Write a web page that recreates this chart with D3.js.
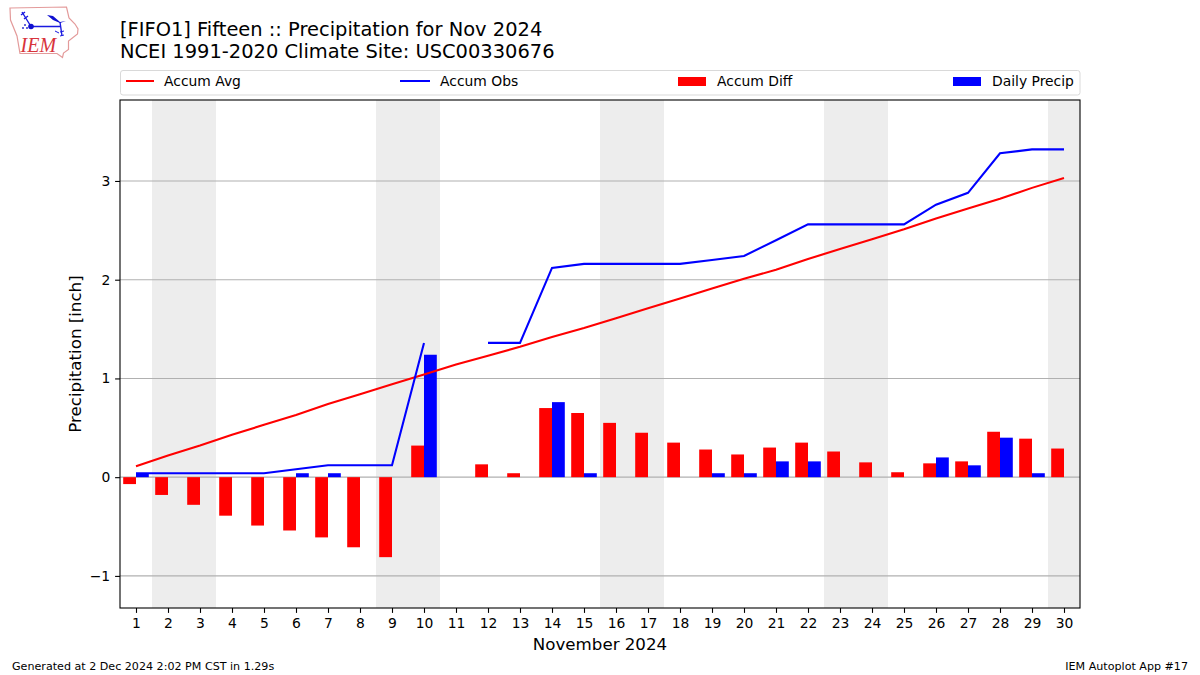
<!DOCTYPE html>
<html>
<head>
<meta charset="utf-8">
<script src="https://cdn.jsdelivr.net/npm/d3@7/dist/d3.min.js"></script>
<style>
html,body{margin:0;padding:0;background:#fff;}
svg{display:block;}
text{font-family:"DejaVu Sans",sans-serif;fill:#000;}
</style>
</head>
<body>
<div id="chart"></div>
<script>
const days = d3.range(1, 31);
const accumAvg = [0.11,0.22,0.32,0.43,0.53,0.63,0.74,0.84,0.94,1.04,1.14,1.23,1.32,1.42,1.51,1.61,1.71,1.81,1.91,2.01,2.10,2.21,2.31,2.41,2.51,2.62,2.72,2.82,2.93,3.03];
const accumObs = [0.04,0.04,0.04,0.04,0.04,0.08,0.12,0.12,0.12,1.36,null,1.36,1.36,2.12,2.16,2.16,2.16,2.16,2.20,2.24,2.40,2.56,2.56,2.56,2.56,2.76,2.88,3.28,3.32,3.32];
const accumDiff = [-0.07,-0.18,-0.28,-0.39,-0.49,-0.54,-0.61,-0.71,-0.81,0.32,null,0.13,0.04,0.70,0.65,0.55,0.45,0.35,0.28,0.23,0.30,0.35,0.26,0.15,0.05,0.14,0.16,0.46,0.39,0.29];
const dailyPrecip = [0.04,0,0,0,0,0.04,0.04,0,0,1.24,0,0,0,0.76,0.04,0,0,0,0.04,0.04,0.16,0.16,0,0,0,0.20,0.12,0.40,0.04,0];
const weekends = [[1.5,3.5],[8.5,10.5],[15.5,17.5],[22.5,24.5],[29.5,30.5]];
const yTicks = [-1,0,1,2,3];
const titleLines = ["[FIFO1] Fifteen :: Precipitation for Nov 2024","NCEI 1991-2020 Climate Site: USC00330676"];
const legendLabels = ["Accum Avg","Accum Obs","Accum Diff","Daily Precip"];
const xTitle = "November 2024";
const yTitle = "Precipitation [inch]";
const footLeft = "Generated at 2 Dec 2024 2:02 PM CST in 1.29s";
const footRight = "IEM Autoplot App #17";

const W = 1200, H = 675;
const plot = {l:120, r:1080, t:100, b:608};
const RED = "#ff0000", BLUE = "#0000ff";
const svg = d3.select("#chart").append("svg").attr("width",W).attr("height",H);

const x = d3.scaleLinear().domain([0.5,30.5]).range([plot.l,plot.r]);
const y = d3.scaleLinear().domain([-1.325,3.82]).range([plot.b,plot.t]);
const barW = 0.4;

// logo
const logo = svg.append("g");
logo.append("path").attr("d","M10 8 L66.5 7 L69 18 L75 24 L78 29 L77.5 34 L68.5 41 L68.5 49.5 L63.5 53 L62.5 57.5 L57 53.5 L20 53.5 L17 36 L10.5 20 Z")
  .attr("fill","none").attr("stroke","#e39a9a").attr("stroke-width",1.2);
logo.append("path").attr("d","M31 26.5 L61 26.5 M60 22 L62 36 M22 12 L31 26.5 M21 15 L25 12 M24 19 L28 16")
  .attr("fill","none").attr("stroke","#1a1ae0").attr("stroke-width",1.4);
logo.append("circle").attr("cx",31).attr("cy",26.5).attr("r",2.8).attr("fill","#1010d0");
logo.append("path").attr("d","M47 15 L53 16 L60 22 L66 21 L60 23 L53 20 Z").attr("fill","#1010d0");
logo.append("path").attr("d","M55 31 L59 33 M60 32 L64 31 M60 36 L64 35").attr("stroke","#1a1ae0").attr("stroke-width",1).attr("fill","none");
logo.append("circle").attr("cx",25).attr("cy",25).attr("r",1).attr("fill","#3030d0");
logo.append("circle").attr("cx",23).attr("cy",28).attr("r",1).attr("fill","#3030d0");
logo.append("circle").attr("cx",27).attr("cy",28).attr("r",1).attr("fill","#3030d0");
logo.append("text").attr("x",20.5).attr("y",52).text("IEM")
  .style("font-family","'Liberation Serif',serif").style("font-style","italic").style("font-size","20px").style("fill","#d8343c");

// titles
svg.append("g").selectAll("text").data(titleLines).join("text")
  .attr("x",120).attr("y",(d,i)=>35.5+i*22).style("font-size","19.44px").text(d=>d);

// legend
const leg = svg.append("g");
leg.append("rect").attr("x",120.5).attr("y",70.5).attr("width",959.5).attr("height",24.5).attr("rx",2.5)
  .attr("fill","#fff").attr("stroke","#d9d9d9").attr("stroke-width",1);
const legItems = [
 {t:"line",c:RED,x0:126,x1:154,tx:164},
 {t:"line",c:BLUE,x0:400,x1:430,tx:440},
 {t:"rect",c:RED,x0:678,x1:706,tx:717},
 {t:"rect",c:BLUE,x0:953,x1:981,tx:992}];
legItems.forEach((it,i)=>{
  if(it.t==="line") leg.append("line").attr("x1",it.x0).attr("x2",it.x1).attr("y1",81).attr("y2",81).attr("stroke",it.c).attr("stroke-width",2);
  else leg.append("rect").attr("x",it.x0).attr("y",77).attr("width",it.x1-it.x0).attr("height",9).attr("fill",it.c);
  leg.append("text").attr("x",it.tx).attr("y",86).style("font-size","13.89px").text(legendLabels[i]);
});

// shading
svg.append("g").selectAll("rect").data(weekends).join("rect")
  .attr("x",d=>x(d[0])).attr("width",d=>x(d[1])-x(d[0]))
  .attr("y",plot.t).attr("height",plot.b-plot.t).attr("fill","#ededed");

// grid
svg.append("g").selectAll("line").data(yTicks).join("line")
  .attr("x1",plot.l).attr("x2",plot.r).attr("y1",d=>y(d)).attr("y2",d=>y(d))
  .attr("stroke","#b0b0b0").attr("stroke-width",1.1);

// bars
svg.append("g").selectAll("rect").data(days.filter((d,i)=>accumDiff[i]!==null)).join("rect")
  .attr("x",d=>x(d-barW)).attr("width",x(barW)-x(0))
  .attr("y",d=>y(Math.max(0,accumDiff[d-1])))
  .attr("height",d=>Math.abs(y(accumDiff[d-1])-y(0))).attr("fill",RED);
svg.append("g").selectAll("rect").data(days.filter((d,i)=>dailyPrecip[i]>0)).join("rect")
  .attr("x",d=>x(d)).attr("width",x(barW)-x(0))
  .attr("y",d=>y(dailyPrecip[d-1]))
  .attr("height",d=>y(0)-y(dailyPrecip[d-1])).attr("fill",BLUE);

// lines
const lineAvg = d3.line().x((v,i)=>x(days[i])).y(v=>y(v));
const lineObs = d3.line().defined(v=>v!==null).x((v,i)=>x(days[i])).y(v=>y(v));
svg.append("path").attr("d",lineAvg(accumAvg)).attr("fill","none").attr("stroke",RED).attr("stroke-width",2.08);
svg.append("path").attr("d",lineObs(accumObs)).attr("fill","none").attr("stroke",BLUE).attr("stroke-width",2.08);

// axes
const xAxis = d3.axisBottom(x).tickValues(days).tickFormat(d3.format("d")).tickSize(4.9).tickPadding(5.6);
const yAxis = d3.axisLeft(y).tickValues(yTicks).tickFormat(d=>d<0?"\u2212"+Math.abs(d):d).tickSize(4.9).tickPadding(4.9);
const gx = svg.append("g").attr("transform",`translate(0,${plot.b})`).call(xAxis);
const gy = svg.append("g").attr("transform",`translate(${plot.l},0)`).call(yAxis);
[gx,gy].forEach(g=>{
  g.select(".domain").remove();
  g.selectAll("line").attr("stroke","#000").attr("stroke-width",1.1);
  g.selectAll("text").style("font-size","13.89px").style("font-family","'DejaVu Sans',sans-serif").attr("fill","#000");
});
svg.append("rect").attr("x",plot.l).attr("y",plot.t).attr("width",plot.r-plot.l).attr("height",plot.b-plot.t)
  .attr("fill","none").attr("stroke","#000").attr("stroke-width",1.1);

// axis titles
svg.append("text").attr("x",600).attr("y",649.5).attr("text-anchor","middle").style("font-size","16.67px").text(xTitle);
svg.append("text").attr("transform","translate(81,354) rotate(-90)").attr("text-anchor","middle").style("font-size","16.67px").text(yTitle);

// footer
svg.append("text").attr("x",12).attr("y",670).style("font-size","11.11px").text(footLeft);
svg.append("text").attr("x",1188).attr("y",670).attr("text-anchor","end").style("font-size","11.11px").text(footRight);
</script>
</body>
</html>
